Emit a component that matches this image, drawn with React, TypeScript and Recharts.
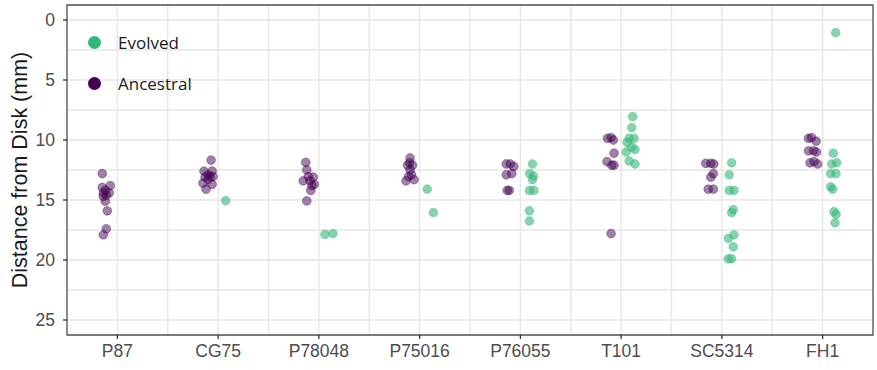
import React from 'react';
import { ScatterChart, Scatter, XAxis, YAxis, CartesianGrid, ReferenceArea } from 'recharts';

const strains = ['P87', 'CG75', 'P78048', 'P75016', 'P76055', 'T101', 'SC5314', 'FH1'];

// Ancestral: distance values (mm) and horizontal jitter (in category units), per strain
const ancestralY: number[][] = [
  [12.8, 13.95, 13.8, 14.4, 14.4, 14.7, 15.1, 15.9, 17.4, 17.9, 14.2, 14.6],
  [11.67, 12.6, 12.6, 12.9, 13.1, 13.05, 13.05, 13.6, 13.7, 14.1, 13.3],
  [11.86, 12.5, 13.05, 13.1, 13.4, 13.4, 13.7, 13.8, 14.2, 15.08],
  [11.5, 11.9, 12.1, 12.1, 12.5, 12.9, 13.05, 13.4, 13.3],
  [12.0, 12.0, 12.2, 12.9, 12.8, 14.2, 14.2],
  [9.86, 9.8, 10.0, 11.1, 11.8, 12.1, 12.1, 17.8],
  [11.94, 11.94, 12.0, 12.8, 13.1, 14.1, 14.1],
  [9.86, 9.8, 10.1, 10.9, 10.9, 11.0, 11.9, 11.8, 12.0],
];
const ancestralJitter: number[][] = [
  [-0.15, -0.15, -0.07, -0.14, -0.08, -0.14, -0.12, -0.1, -0.11, -0.14, -0.12, -0.11],
  [-0.07, -0.14, -0.06, -0.1, -0.13, -0.08, -0.05, -0.15, -0.06, -0.12, -0.1],
  [-0.13, -0.12, -0.105, -0.056, -0.155, -0.088, -0.046, -0.07, -0.08, -0.12],
  [-0.095, -0.1, -0.12, -0.07, -0.095, -0.08, -0.11, -0.135, -0.055],
  [-0.14, -0.1, -0.065, -0.14, -0.085, -0.13, -0.11],
  [-0.135, -0.1, -0.077, -0.07, -0.14, -0.093, -0.07, -0.1],
  [-0.16, -0.11, -0.08, -0.085, -0.11, -0.135, -0.085],
  [-0.14, -0.11, -0.065, -0.14, -0.09, -0.06, -0.125, -0.085, -0.05],
];

// Evolved
const evolvedY: number[][] = [
  [],
  [15.05],
  [17.86, 17.8],
  [14.1, 16.05],
  [12.0, 12.8, 13.0, 13.3, 14.2, 14.2, 15.9, 16.75],
  [8.06, 8.97, 9.86, 9.86, 10.2, 10.6, 11.0, 10.8, 11.75, 12.0],
  [11.9, 12.9, 14.2, 14.2, 15.8, 16.05, 17.9, 18.2, 18.9, 19.9, 19.9],
  [1.06, 11.1, 12.0, 11.9, 12.8, 12.8, 13.9, 14.1, 15.97, 16.2, 16.9],
];
const evolvedJitter: number[][] = [
  [],
  [0.075],
  [0.06, 0.14],
  [0.076, 0.136],
  [0.12, 0.09, 0.13, 0.12, 0.09, 0.135, 0.09, 0.09],
  [0.115, 0.105, 0.08, 0.128, 0.06, 0.105, 0.05, 0.138, 0.08, 0.138],
  [0.097, 0.073, 0.073, 0.12, 0.113, 0.097, 0.12, 0.064, 0.113, 0.064, 0.097],
  [0.13, 0.106, 0.09, 0.14, 0.08, 0.133, 0.08, 0.1, 0.113, 0.133, 0.123],
];

const yTicks = [0, 5, 10, 15, 20, 25];
const yGrid = [0, 2.5, 5, 7.5, 10, 12.5, 15, 17.5, 20, 22.5, 25];
const xTicks = [1, 2, 3, 4, 5, 6, 7, 8];
const xGrid = [1, 1.5, 2, 2.5, 3, 3.5, 4, 4.5, 5, 5.5, 6, 6.5, 7, 7.5, 8];

const series = [
  { name: 'Evolved', color: '#35B779' },
  { name: 'Ancestral', color: '#440154' },
];

const build = (ys: number[][], js: number[][]) =>
  ys.flatMap((arr, i) => arr.map((y, k) => ({ x: i + 1 + js[i][k], y })));

const ancestralData = build(ancestralY, ancestralJitter);
const evolvedData = build(evolvedY, evolvedJitter);

const dot = (color: string, fo: number, so: number) => (props: any) => (
  <circle cx={props.cx} cy={props.cy} r={4.4} fill={color} fillOpacity={fo} stroke={color} strokeOpacity={so} strokeWidth={1} />
);

const axisFont = "'Liberation Sans', Arial, sans-serif";

export default function App() {
  return (
    <div style={{ position: 'absolute', left: 0, top: 0, width: 877, height: 370, background: '#fff' }}>
      <ScatterChart width={877} height={370} margin={{ top: 5, right: 4, bottom: 0, left: 0 }}>
        <CartesianGrid horizontalValues={yGrid} verticalValues={xGrid} stroke="#e6e6e6" strokeWidth={1.4} />
        <XAxis
          type="number"
          dataKey="x"
          domain={[0.5, 8.5]}
          ticks={xTicks}
          allowDataOverflow
          interval={0}
          tickFormatter={(v: number) => strains[v - 1]}
          height={35}
          axisLine={false}
          tickSize={4}
          tickMargin={6}
          tickLine={{ stroke: '#333', strokeWidth: 1.3 }}
          tick={{ fill: '#4d4d4d', fontSize: 17.5, fontFamily: axisFont }}
        />
        <YAxis
          type="number"
          dataKey="y"
          domain={[-1.25, 26.25]}
          reversed
          allowDataOverflow
          ticks={yTicks}
          interval={0}
          width={67}
          axisLine={false}
          tickSize={4}
          tickMargin={8}
          tickLine={{ stroke: '#333', strokeWidth: 1.3 }}
          tick={{ fill: '#4d4d4d', fontSize: 17.5, fontFamily: axisFont }}
          label={{
            value: 'Distance from Disk (mm)',
            angle: -90,
            position: 'insideLeft',
            dx: 14,
            style: { fill: '#1a1a1a', fontSize: 21.5, fontFamily: axisFont, textAnchor: 'middle' },
          }}
        />
        <Scatter name="Ancestral" data={ancestralData} isAnimationActive={false} shape={dot('#440154', 0.5, 0.35)} />
        <Scatter name="Evolved" data={evolvedData} isAnimationActive={false} shape={dot('#35B779', 0.6, 0.35)} />
        <ReferenceArea x1={0.5} x2={8.5} y1={-1.25} y2={26.25} fill="none" stroke="#4d4d4d" strokeWidth={1.3} ifOverflow="visible" />
      </ScatterChart>
      <div style={{ position: 'absolute', left: 88, top: 30, fontFamily: "'Open Sans', sans-serif", fontSize: 17, color: '#1a1a1a' }}>
        {series.map((s, i) => (
          <div key={s.name} style={{ display: 'flex', alignItems: 'center', height: 24, marginBottom: i === 0 ? 17 : 0 }}>
            <span style={{ display: 'inline-block', width: 13, height: 13, borderRadius: '50%', background: s.color, marginRight: 17 }} />
            <span>{s.name}</span>
          </div>
        ))}
      </div>
    </div>
  );
}
